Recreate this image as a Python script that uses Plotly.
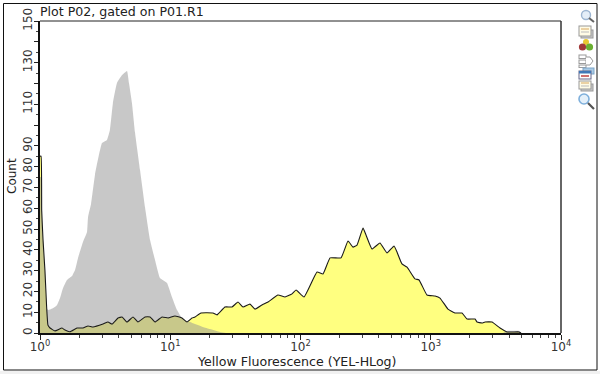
import base64
import numpy as np
import plotly.graph_objects as go

# Histogram data: position in decades (log10 of fluorescence), and event count
yellow_decades = [0,.008,.013,.023,.038,.051,.061,.077,.115,.169,.192,.23,.284,.33,.369,.407,.484,.522,.553,.599,.63,.668,.714,.752,.806,.845,.883,.937,.983,1.036,1.09,1.129,1.167,1.19,1.236,1.328,1.359,1.42,1.474,1.52,1.559,1.612,1.651,1.704,1.751,1.827,1.881,1.935,1.966,2.027,2.127,2.173,2.227,2.311,2.365,2.403,2.434,2.48,2.503,2.549,2.61,2.664,2.718,2.741,2.779,2.818,2.879,2.91,2.971,3.033,3.071,3.132,3.186,3.24,3.279,3.34,3.355,3.394,3.417,3.47,3.532,3.586,3.678,3.693]
yellow_counts = [85,85,59,45,30,12.5,3.8,2.4,1,2.4,1.4,.6,2.4,2.4,3.4,2.9,4.3,5.3,4.3,7.2,7.7,5.3,7.7,5.3,7.7,7.7,5.3,7.7,7.2,8.2,7.2,5.3,7.2,7.7,9.6,9.6,8.7,12.5,12.5,14.9,12.5,13.9,11.5,13.5,14.9,18.3,17.3,18.8,20.7,17.3,29.3,28.4,36.1,36.1,44.2,41.3,42.3,50.5,47.1,40.4,43.3,38.5,41.8,38.9,33.2,31.7,26,25.5,18.3,17.8,16.8,11.5,9.6,9.6,6.7,6.7,5.3,4.8,5.3,5.3,2.4,.5,.5,0]
gray_decades = [0,.008,.013,.023,.038,.051,.062,.102,.131,.154,.177,.207,.246,.269,.292,.33,.361,.369,.392,.422,.476,.514,.537,.56,.591,.63,.668,.683,.706,.729,.768,.806,.845,.883,.921,.975,1.013,1.052,1.09,1.113,1.152,1.251,1.305,1.382,1.428,3.55,3.586,3.678,3.693]
gray_counts = [75,75,58,44,29,12,11,12,13.5,16.8,21.6,25.5,27.4,30.3,36.1,43.8,48.6,55.8,62,76,91.3,92.8,97.6,110.6,120.2,124,126,120.2,110.6,96.6,78.4,60.6,44.7,35.1,26.4,24,17.3,11,7.2,6.3,5.3,2.9,1.9,.5,0,0,1,1,0]

x_major = [1, 10, 100, 1000, 10000]
x_major_text = ["10<sup>0</sup>", "10<sup>1</sup>", "10<sup>2</sup>", "10<sup>3</sup>", "10<sup>4</sup>"]
x_minor = [m * d for d in [1, 10, 100, 1000] for m in range(2, 10)]
y_major = list(range(0, 151, 10))
y_major_text = ["0","10","20","30","40","50","60","70","80","90","","110","","130","","150"]

FONT = "DejaVu Sans"
W, H = 600, 374
L, R, T, B = 40, 39, 21, 41
pw, ph = W - L - R, H - T - B
def px(v): return (v - L) / pw
def py(v): return 1 - (v - T) / ph

yellow_x = np.power(10.0, yellow_decades)
gray_x = np.power(10.0, gray_decades)
SMOOTH = dict(shape="spline", smoothing=0.35)

fig = go.Figure()
fig.add_trace(go.Scatter(x=yellow_x, y=yellow_counts, mode="lines", line=dict(width=0, **SMOOTH),
                         fill="tozeroy", fillcolor="#ffff80", hoverinfo="skip"))
fig.add_trace(go.Scatter(x=gray_x, y=gray_counts, mode="lines", line=dict(width=0, **SMOOTH),
                         fill="tozeroy", fillcolor="rgba(147,147,147,0.51)", hoverinfo="skip"))
fig.add_trace(go.Scatter(x=yellow_x, y=yellow_counts, mode="lines",
                         line=dict(color="#1a1a1a", width=1.1, **SMOOTH), hoverinfo="skip"))

icons = """<svg xmlns='http://www.w3.org/2000/svg' width='22' height='105' viewBox='0 0 22 105'>
<filter id='b'><feGaussianBlur stdDeviation='0.35'/></filter>
<g filter='url(#b)'>
<circle cx='11' cy='7' r='4.5' fill='#e4eef8' stroke='#9db6d2' stroke-width='1.4'/>
<line x1='14' y1='10' x2='19' y2='14' stroke='#666' stroke-width='2'/>
<rect x='6' y='22' width='12' height='8' fill='#ccc' stroke='#999'/>
<rect x='4' y='18' width='12' height='10' fill='#fffbe6' stroke='#999'/>
<line x1='6' y1='21' x2='14' y2='21' stroke='#d8a860'/><line x1='6' y1='24' x2='14' y2='24' stroke='#bbb'/>
<circle cx='11' cy='34' r='3' fill='#e8c830'/><circle cx='7.5' cy='39' r='3.6' fill='#a03838'/><circle cx='14.5' cy='39' r='3.6' fill='#6ab030'/>
<rect x='4' y='47' width='7' height='3.5' fill='#fff' stroke='#999'/><rect x='4' y='52' width='7' height='3.5' fill='#fff' stroke='#999'/>
<rect x='4' y='57' width='7' height='2.5' fill='#fff' stroke='#999'/><path d='M11 49 L15 49 L18 53 L15 57 L11 57' fill='#fff' stroke='#999'/>
<rect x='8' y='60' width='11' height='6' fill='#a9cbe6' stroke='#7fa5c8'/>
<rect x='4' y='63' width='12' height='8' fill='#fff' stroke='#668'/><rect x='4' y='63' width='12' height='2.5' fill='#3f78b8'/>
<line x1='6' y1='68' x2='14' y2='68' stroke='#c04040' stroke-width='1.5'/>
<rect x='6' y='76' width='12' height='7' fill='#ccc' stroke='#999'/>
<rect x='4' y='73' width='12' height='8' fill='#fffbe6' stroke='#999'/>
<line x1='6' y1='75' x2='14' y2='75' stroke='#d8a860'/><line x1='6' y1='78' x2='14' y2='78' stroke='#bbb'/>
<circle cx='9' cy='91' r='5' fill='#e4f0fa' stroke='#7fb0dc' stroke-width='1.6'/>
<line x1='13' y1='95' x2='19' y2='101' stroke='#555' stroke-width='2.2'/>
</g></svg>"""
icons_uri = "data:image/svg+xml;base64," + base64.b64encode(icons.encode()).decode()

fig.update_layout(
    width=W, height=H, margin=dict(l=L, r=R, t=T, b=B, pad=0, autoexpand=False),
    paper_bgcolor="white", plot_bgcolor="white", showlegend=False,
    font=dict(family=FONT, size=12, color="#333333"),
    title=dict(text="Plot P02, gated on P01.R1", font=dict(family=FONT, size=12.6, color="#222222"),
               xref="paper", x=0, xanchor="left", yref="container", y=1 - 12 / H, yanchor="middle",
               automargin=False),
    xaxis=dict(type="log", range=[0, 4], showgrid=False, zeroline=False, automargin=False,
               showline=True, linecolor="#111111", linewidth=2,
               ticks="outside", ticklen=5, tickwidth=1, tickcolor="#222222",
               tickmode="array", tickvals=x_major, ticktext=x_major_text,
               tickangle=0, tickfont=dict(size=12, color="#333333"), ticklabelstandoff=-3,
               minor=dict(ticks="outside", ticklen=3, tickwidth=1, tickcolor="#444444",
                          tickmode="array", tickvals=x_minor, showgrid=False)),
    yaxis=dict(range=[0, 150], showgrid=False, zeroline=False, automargin=False,
               showline=True, linecolor="#111111", linewidth=2,
               ticks="outside", ticklen=4, tickwidth=1, tickcolor="#222222",
               tickmode="array", tickvals=y_major, ticktext=y_major_text,
               tickangle=-90, tickfont=dict(size=12, color="#333333"), ticklabelstandoff=-3,
               minor=dict(ticks="outside", ticklen=2, tickwidth=1, tickcolor="#444444",
                          dtick=5, showgrid=False)),
    annotations=[
        dict(text="Yellow Fluorescence (YEL-HLog)", xref="paper", yref="paper",
             x=px(297), y=py(362), xanchor="center", yanchor="middle", showarrow=False,
             font=dict(size=12.6, color="#222222")),
        dict(text="Count", xref="paper", yref="paper", x=px(12), y=py(176), textangle=-90,
             xanchor="center", yanchor="middle", showarrow=False,
             font=dict(size=12, color="#222222")),
    ],
    shapes=[
        dict(type="rect", xref="paper", yref="paper", x0=px(0), x1=px(600), y0=py(374), y1=py(371),
             fillcolor="#f1f1f1", line=dict(width=0), layer="below"),
        dict(type="rect", xref="paper", yref="paper", x0=px(3.5), x1=px(597), y0=py(370), y1=py(3.5),
             fillcolor="rgba(0,0,0,0)", line=dict(color="#111111", width=1), layer="above"),
        dict(type="line", xref="paper", yref="paper", x0=0, x1=1, y0=1, y1=1,
             line=dict(color="#222222", width=1)),
        dict(type="line", xref="paper", yref="paper", x0=1, x1=1, y0=0, y1=1,
             line=dict(color="#333333", width=1.5)),
    ],
    images=[dict(source=icons_uri, xref="paper", yref="paper", x=px(575), y=py(8),
                 sizex=22 / pw, sizey=105 / ph, xanchor="left", yanchor="top",
                 sizing="stretch", layer="above")],
)

fig.write_html("out.html", config={"displayModeBar": False},
               post_script="document.body.style.margin='0';document.body.style.overflow='hidden';")
